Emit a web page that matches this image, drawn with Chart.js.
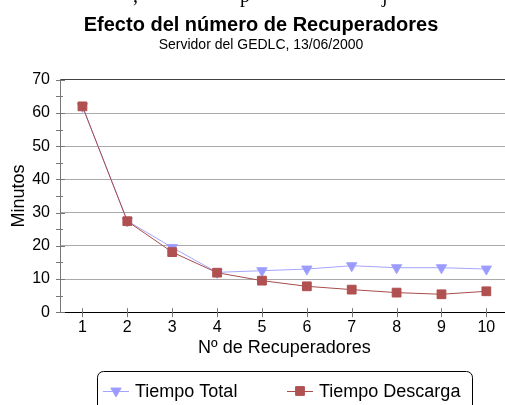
<!DOCTYPE html>
<html lang="es">
<head>
<meta charset="UTF-8">
<title>Efecto del número de Recuperadores</title>
<script src="https://cdn.jsdelivr.net/npm/chart.js"></script>
<style>
  html, body { margin: 0; padding: 0; background: #fff; overflow: hidden; }
  #wrap { position: relative; width: 516px; height: 405px; }
  .frag { position: absolute; top: -16px; font: 20px "Liberation Serif", serif; color: #000; }
</style>
</head>
<body>
<div id="wrap">
  <span class="frag" style="left:133px">,</span>
  <span class="frag" style="left:240px">p</span>
  <span class="frag" style="left:382px">j</span>
  <canvas id="chart"></canvas>
</div>
<script>
const recuperadores = ['1', '2', '3', '4', '5', '6', '7', '8', '9', '10'];
const tiempoTotal = [62, 27.5, 19.5, 12, 12.5, 13, 14, 13.4, 13.4, 13];
const tiempoDescarga = [62, 27.4, 18.1, 11.9, 9.5, 7.8, 6.8, 5.9, 5.4, 6.3];
const yTicks = [0, 10, 20, 30, 40, 50, 60, 70];

const FONT = "'Liberation Sans', Arial, sans-serif";

// tick marks crossing the axis lines, like the original
const axisTicks = {
  id: 'axisTicks',
  afterDatasetsDraw(chart) {
    const ctx = chart.ctx, x = chart.scales.x, y = chart.scales.y;
    ctx.save();
    ctx.lineWidth = 1;
    ctx.strokeStyle = '#777';
    for (let v = 0; v <= 70; v += 5) {
      const py = Math.round(y.getPixelForValue(v)) + 0.5;
      ctx.beginPath();
      ctx.moveTo(x.left - 4, py);
      ctx.lineTo(x.left + (v % 10 === 0 ? 5 : 3), py);
      ctx.stroke();
    }
    recuperadores.forEach((_, i) => {
      const px = Math.round(x.getPixelForValue(i)) + 0.5;
      ctx.beginPath();
      ctx.moveTo(px, y.bottom - 4);
      ctx.lineTo(px, y.bottom + 5);
      ctx.stroke();
    });
    ctx.restore();
  }
};

// boxed legend with line + marker samples
const boxLegend = {
  id: 'boxLegend',
  afterDraw(chart) {
    const ctx = chart.ctx;
    const items = [{ x: 103 }, { x: 287 }];
    ctx.save();
    ctx.strokeStyle = '#000';
    ctx.lineWidth = 1;
    ctx.beginPath();
    ctx.roundRect(97.5, 371.5, 375, 50, 6);
    ctx.stroke();
    const cy = 391;
    chart.data.datasets.forEach((ds, i) => {
      const x0 = items[i].x;
      ctx.strokeStyle = ds.borderColor;
      ctx.lineWidth = 1;
      ctx.beginPath();
      ctx.moveTo(x0, cy + 0.5);
      ctx.lineTo(x0 + 26, cy + 0.5);
      ctx.stroke();
      ctx.fillStyle = ds.pointBackgroundColor;
      ctx.strokeStyle = ds.pointBorderColor;
      Chart.helpers.drawPoint(ctx, {
        pointStyle: ds.pointStyle, rotation: ds.pointRotation || 0,
        radius: ds.pointRadius, borderWidth: 1
      }, x0 + 13, cy);
      ctx.fillStyle = '#000';
      ctx.font = '18px ' + FONT;
      ctx.textBaseline = 'middle';
      ctx.fillText(ds.label, x0 + 32, cy + 1);
    });
    ctx.restore();
  }
};

new Chart(document.getElementById('chart'), {
  type: 'line',
  data: {
    labels: recuperadores,
    datasets: [{
      label: 'Tiempo Total',
      data: tiempoTotal,
      borderColor: '#a4a4ff',
      borderWidth: 1,
      pointStyle: 'triangle',
      pointRotation: 180,
      pointRadius: 6,
      pointBackgroundColor: '#9a9aff',
      pointBorderColor: '#a4a4ff',
      order: 2
    }, {
      label: 'Tiempo Descarga',
      data: tiempoDescarga,
      borderColor: '#a84c4c',
      borderWidth: 1,
      pointStyle: 'rect',
      pointRadius: 6.2,
      pointBackgroundColor: '#b05050',
      pointBorderColor: '#b05050',
      order: 1
    }]
  },
  options: {
    responsive: true,
    maintainAspectRatio: false,
    animation: false,
    layout: { padding: { left: 8, right: 2, top: 0, bottom: 46 } },
    plugins: {
      legend: { display: false },
      tooltip: { enabled: false },
      title: {
        display: true,
        text: 'Efecto del número de Recuperadores',
        color: '#000',
        font: { family: FONT, size: 20, weight: 'bold' },
        padding: { top: 13, bottom: 0 }
      },
      subtitle: {
        display: true,
        text: 'Servidor del GEDLC, 13/06/2000',
        color: '#000',
        font: { family: FONT, size: 14 },
        padding: { top: 0, bottom: 26 }
      }
    },
    scales: {
      x: {
        offset: true,
        grid: { display: false, drawTicks: false },
        border: { color: '#000', width: 1 },
        ticks: { color: '#000', font: { family: FONT, size: 16 }, padding: 6, maxRotation: 0 },
        title: {
          display: true, text: 'Nº de Recuperadores', color: '#000',
          font: { family: FONT, size: 18 }, padding: { top: -6, bottom: 0 }
        }
      },
      y: {
        min: 0, max: 70,
        afterBuildTicks(scale) { scale.ticks = yTicks.map(v => ({ value: v })); },
        afterFit(scale) { scale.width = 52; },
        grid: {
          drawTicks: false,
          color: c => c.tick.value === 70 ? '#444' : (c.tick.value === 0 ? 'rgba(0,0,0,0)' : '#aaa'),
          lineWidth: 1
        },
        border: { color: '#777', width: 1 },
        ticks: { color: '#000', font: { family: FONT, size: 16 }, padding: 10 },
        title: {
          display: true, text: 'Minutos', color: '#000',
          font: { family: FONT, size: 18 }, padding: { top: 0, bottom: 0 }
        }
      }
    }
  },
  plugins: [axisTicks, boxLegend]
});
</script>
</body>
</html>
